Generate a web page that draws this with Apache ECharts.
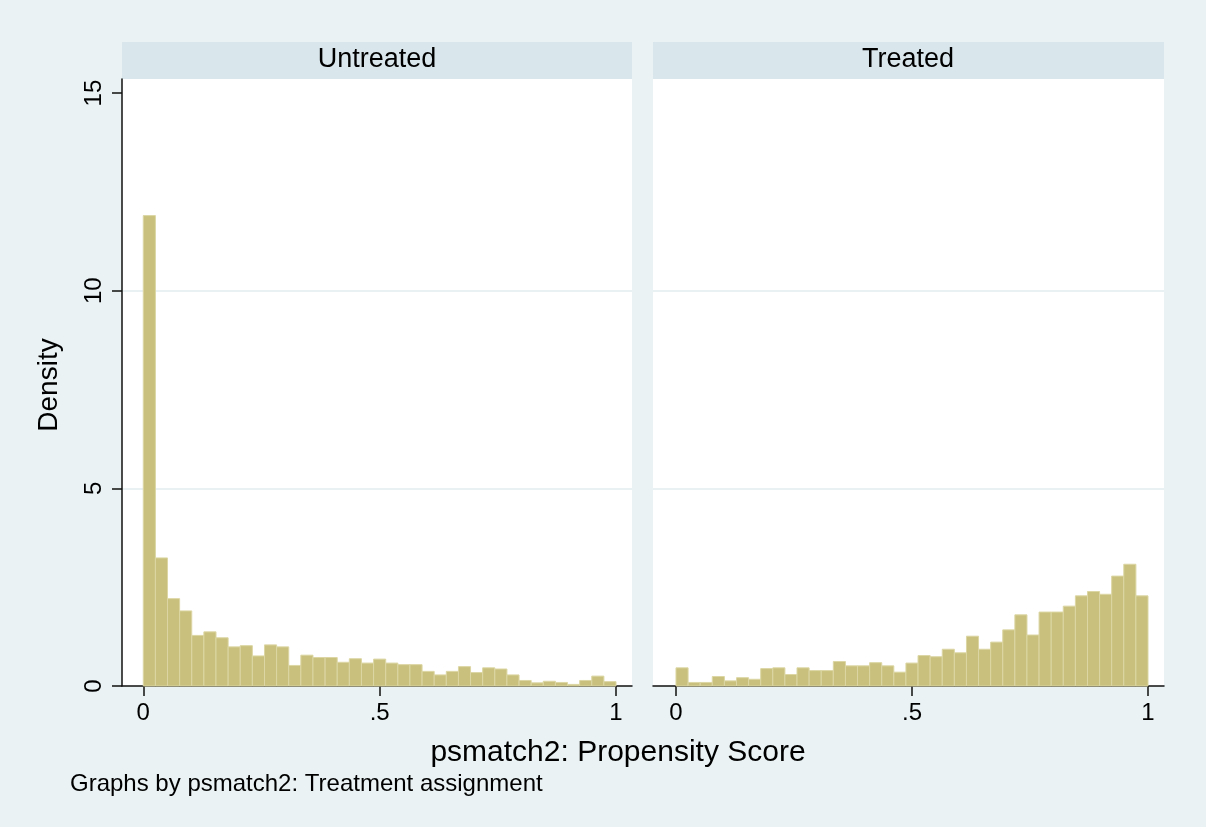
<!DOCTYPE html>
<html>
<head>
<meta charset="utf-8">
<script src="https://cdn.jsdelivr.net/npm/echarts@6.0.0/dist/echarts.min.js"></script>
<style>
html,body{margin:0;padding:0;background:#EAF2F3;}
#chart{width:1206px;height:827px;}
</style>
</head>
<body>
<div id="chart"></div>
<script>
// ---- data (densities, 39 bins over [0,1]) ----
const panelTitles = ['Untreated', 'Treated'];
const binCount = 39;
const untreatedDensity = [11.9, 3.24, 2.21, 1.90, 1.28, 1.37, 1.22, 0.99, 1.02, 0.76,
  1.04, 0.99, 0.52, 0.78, 0.72, 0.72, 0.60, 0.69, 0.58, 0.68,
  0.58, 0.54, 0.54, 0.37, 0.28, 0.37, 0.49, 0.34, 0.46, 0.43,
  0.28, 0.14, 0.08, 0.12, 0.09, 0.04, 0.14, 0.25, 0.11];
const treatedDensity = [0.46, 0.09, 0.09, 0.24, 0.13, 0.21, 0.17, 0.44, 0.46, 0.29,
  0.46, 0.39, 0.39, 0.62, 0.51, 0.51, 0.59, 0.51, 0.35, 0.58,
  0.77, 0.74, 0.93, 0.84, 1.26, 0.93, 1.11, 1.42, 1.80, 1.29,
  1.87, 1.87, 2.02, 2.28, 2.39, 2.32, 2.78, 3.08, 2.28];
const xTicks = [0, 0.5, 1];
const xTickLabels = ['0', '.5', '1'];
const yTicks = [0, 5, 10, 15];
const yTickLabels = ['0', '5', '10', '15'];
const xTitle = 'psmatch2: Propensity Score';
const yTitle = 'Density';
const noteText = 'Graphs by psmatch2: Treatment assignment';

// ---- build ----
const FONT = 'Liberation Sans, Arial, Helvetica, sans-serif';
const BAR_FILL = '#C8C07C';
const BAR_EDGE = '#DCD6A4';
const GRID_LINE = '#E3ECEF';

function binData(values) {
  return values.map((v, i) => [i / binCount, (i + 1) / binCount, v]);
}

function renderBin(params, api) {
  const p0 = api.coord([api.value(0), api.value(2)]);
  const p1 = api.coord([api.value(1), 0]);
  return {
    type: 'rect',
    shape: { x: p0[0], y: p0[1], width: p1[0] - p0[0], height: p1[1] - p0[1] },
    style: { fill: BAR_FILL, stroke: BAR_EDGE, lineWidth: 1 }
  };
}

function xAxisCfg(gridIndex, min, max) {
  return {
    type: 'value', gridIndex, min, max,
    axisLine: { show: true, onZero: false, lineStyle: { color: '#111', width: 1.5 } },
    axisTick: { show: true, length: 10, customValues: xTicks, lineStyle: { color: '#111', width: 1.5 } },
    axisLabel: {
      show: true, customValues: xTicks, margin: 15,
      fontFamily: FONT, fontSize: 24, color: '#000',
      formatter: v => xTickLabels[xTicks.findIndex(t => Math.abs(t - v) < 1e-9)] ?? ''
    },
    splitLine: { show: false }
  };
}

function yAxisCfg(gridIndex, showAxis) {
  return {
    type: 'value', gridIndex, min: 0, max: 15.355,
    axisLine: { show: showAxis, onZero: false, lineStyle: { color: '#111', width: 1.5 } },
    axisTick: { show: showAxis, length: 10, customValues: yTicks, lineStyle: { color: '#111', width: 1.5 } },
    axisLabel: {
      show: showAxis, customValues: yTicks, rotate: 90, margin: 16,
      fontFamily: FONT, fontSize: 24, color: '#000',
      formatter: v => yTickLabels[yTicks.findIndex(t => Math.abs(t - v) < 1e-9)] ?? ''
    },
    splitLine: {
      show: true,
      lineStyle: { color: ['rgba(0,0,0,0)', GRID_LINE, GRID_LINE, 'rgba(0,0,0,0)', 'rgba(0,0,0,0)'], width: 1.5 }
    }
  };
}

const option = {
  backgroundColor: '#EAF2F3',
  animation: false,
  grid: [
    { left: 122, top: 79, width: 510, height: 607, show: true, backgroundColor: '#FFFFFF', borderWidth: 0 },
    { left: 653, top: 79, width: 511, height: 607, show: true, backgroundColor: '#FFFFFF', borderWidth: 0 }
  ],
  xAxis: [xAxisCfg(0, -0.045, 1.0338), xAxisCfg(1, -0.0487, 1.0339)],
  yAxis: [yAxisCfg(0, true), yAxisCfg(1, false)],
  series: [
    { type: 'custom', xAxisIndex: 0, yAxisIndex: 0, data: binData(untreatedDensity),
      encode: { x: [0, 1], y: 2 }, renderItem: renderBin, silent: true },
    { type: 'custom', xAxisIndex: 1, yAxisIndex: 1, data: binData(treatedDensity),
      encode: { x: [0, 1], y: 2 }, renderItem: renderBin, silent: true }
  ],
  graphic: [
    { type: 'rect', shape: { x: 122, y: 42, width: 510, height: 37 }, style: { fill: '#D9E6EB' }, silent: true },
    { type: 'rect', shape: { x: 653, y: 42, width: 511, height: 37 }, style: { fill: '#D9E6EB' }, silent: true },
    { type: 'text', x: 377, y: 60, style: { text: panelTitles[0], font: '27px ' + FONT, fill: '#000', align: 'center', verticalAlign: 'middle' } },
    { type: 'text', x: 908, y: 60, style: { text: panelTitles[1], font: '27px ' + FONT, fill: '#000', align: 'center', verticalAlign: 'middle' } },
    { type: 'text', x: 618, y: 753, style: { text: xTitle, font: '30px ' + FONT, fill: '#000', align: 'center', verticalAlign: 'middle' } },
    { type: 'text', x: 49, y: 385, rotation: Math.PI / 2, style: { text: yTitle, font: '28px ' + FONT, fill: '#000', align: 'center', verticalAlign: 'middle' } },
    { type: 'text', x: 70, y: 784, style: { text: noteText, font: '24px ' + FONT, fill: '#000', align: 'left', verticalAlign: 'middle' } }
  ]
};

const chart = echarts.init(document.getElementById('chart'), null, { renderer: 'canvas' });
chart.setOption(option);
</script>
</body>
</html>
